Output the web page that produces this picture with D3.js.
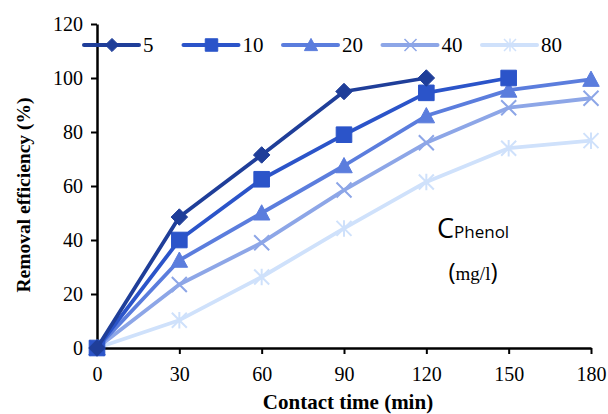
<!DOCTYPE html>
<html>
<head>
<meta charset="utf-8">
<script src="https://cdn.jsdelivr.net/npm/d3@7"></script>
<style>
  body { margin: 0; background: #fff; }
</style>
</head>
<body>
<div id="chart-area"></div>
<script>
// dados
const times = [0, 30, 60, 90, 120, 150, 180]
const xTicks = [0, 30, 60, 90, 120, 150, 180]
const yTicks = [0, 20, 40, 60, 80, 100, 120]
const seriesNames = ["5", "10", "20", "40", "80"]
const c5 = [0, 48.5, 71.5, 95, 100]
const c10 = [0, 40, 62.5, 79, 94.5, 100]
const c20 = [0, 32.5, 50, 67.5, 86, 95.5, 99.5]
const c40 = [0, 23.5, 39, 58.5, 76, 89, 92.5]
const c80 = [0, 10.3, 26.3, 44.3, 61.5, 74, 76.8]
const seriesValues = [c5, c10, c20, c40, c80]
const colors = ["#1f3e99", "#2b54c9", "#5b7ddd", "#8da6e7", "#cfe1fb"]
const symbols = ["diamond", "square", "triangle", "x", "star"]

const MARGIN = { LEFT: 97, RIGHT: 17, TOP: 24, BOTTOM: 66 }
const WIDTH = 608 - MARGIN.LEFT - MARGIN.RIGHT
const HEIGHT = 414 - MARGIN.TOP - MARGIN.BOTTOM

const svg = d3.select("#chart-area").append("svg")
  .attr("width", 608)
  .attr("height", 414)

const g = svg.append("g")
  .attr("transform", `translate(${MARGIN.LEFT}, ${MARGIN.TOP})`)

const x = d3.scaleLinear().domain([0, 180]).range([0, WIDTH])
const y = d3.scaleLinear().domain([0, 120]).range([HEIGHT, 0])

const serif = "'Liberation Serif', 'Times New Roman', serif"
const sans = "'Open Sans', 'Noto Sans', sans-serif"

// eixos
const xAxis = g.append("g")
  .attr("transform", `translate(0, ${HEIGHT})`)
  .call(d3.axisBottom(x).tickValues(xTicks).tickSize(6).tickSizeOuter(0).tickPadding(13))
const yAxis = g.append("g")
  .call(d3.axisLeft(y).tickValues(yTicks).tickSize(6).tickSizeOuter(0).tickPadding(8))

;[xAxis, yAxis].forEach(a => {
  a.select(".domain").attr("stroke", "#000").attr("stroke-width", 2.5)
  a.selectAll(".tick line").attr("stroke", "#000").attr("stroke-width", 2)
  a.selectAll(".tick text")
    .attr("fill", "#000")
    .attr("font-family", serif)
    .attr("font-size", "20px")
})

// títulos dos eixos
svg.append("text")
  .attr("x", 348)
  .attr("y", 409)
  .attr("text-anchor", "middle")
  .attr("font-family", serif)
  .attr("font-weight", "bold")
  .attr("font-size", "21px")
  .text("Contact time (min)")

svg.append("text")
  .attr("transform", "rotate(-90)")
  .attr("x", -195)
  .attr("y", 30)
  .attr("text-anchor", "middle")
  .attr("font-family", serif)
  .attr("font-weight", "bold")
  .attr("font-size", "19.5px")
  .text("Removal efficiency (%)")

// símbolos
function symbolPath(type, size) {
  if (type === "diamond") {
    const s = size * 0.55
    return `M0,${-s}L${s},0L0,${s}L${-s},0Z`
  }
  if (type === "square") {
    const s = size * 0.52
    return `M${-s},${-s}H${s}V${s}H${-s}Z`
  }
  if (type === "triangle") {
    const s = size * 0.55
    return `M0,${-s}L${s},${s * 0.85}L${-s},${s * 0.85}Z`
  }
  if (type === "x") {
    const s = size * 0.5
    return `M${-s},${-s}L${s},${s}M${s},${-s}L${-s},${s}`
  }
  const s = size * 0.5
  return `M${-s},${-s}L${s},${s}M${s},${-s}L${-s},${s}M0,${-s * 1.1}V${s * 1.1}`
}

const line = d3.line()
  .x((d, i) => x(times[i]))
  .y(d => y(d))

// desenha as séries (do mais claro para o mais escuro)
for (let k = seriesValues.length - 1; k >= 0; k--) {
  const vals = seriesValues[k]
  const sg = g.append("g")
  sg.append("path")
    .attr("fill", "none")
    .attr("stroke", colors[k])
    .attr("stroke-width", 3.8)
    .attr("stroke-linejoin", "round")
    .attr("d", line(vals))
  const open = symbols[k] === "x" || symbols[k] === "star"
  sg.selectAll("path.m")
    .data(vals)
    .enter().append("path")
    .attr("class", "m")
    .attr("transform", (d, i) => `translate(${x(times[i])}, ${y(d)})`)
    .attr("d", symbolPath(symbols[k], 15))
    .attr("fill", open ? "none" : colors[k])
    .attr("stroke", colors[k])
    .attr("stroke-width", open ? 2 : 1)
}

// legenda
const legend = svg.append("g").attr("transform", "translate(84, 45)")
seriesNames.forEach((name, k) => {
  const lg = legend.append("g").attr("transform", `translate(${k * 99.5}, 0)`)
  lg.append("line")
    .attr("x1", 0).attr("x2", 55)
    .attr("stroke", colors[k])
    .attr("stroke-width", 4)
    .attr("stroke-linecap", "round")
  const open = symbols[k] === "x" || symbols[k] === "star"
  lg.append("path")
    .attr("transform", "translate(28, 0)")
    .attr("d", symbolPath(symbols[k], 12))
    .attr("fill", open ? "none" : colors[k])
    .attr("stroke", colors[k])
    .attr("stroke-width", open ? 1.5 : 1)
  lg.append("text")
    .attr("x", 59)
    .attr("y", 7)
    .attr("font-family", serif)
    .attr("font-size", "21px")
    .attr("fill", "#000")
    .text(name)
})

// anotação C Phenol
const note = svg.append("text")
  .attr("x", 437)
  .attr("y", 238)
  .attr("font-family", sans)
  .attr("fill", "#000")
note.append("tspan").attr("font-size", "27px").text("C")
note.append("tspan").attr("font-size", "17px").text("Phenol")

const unit = svg.append("text")
  .attr("x", 473)
  .attr("y", 280)
  .attr("text-anchor", "middle")
  .attr("fill", "#000")
unit.append("tspan").attr("font-family", sans).attr("font-size", "24px").text("(")
unit.append("tspan").attr("font-family", serif).attr("font-size", "19px").text("mg/l")
unit.append("tspan").attr("font-family", sans).attr("font-size", "24px").text(")")
</script>
</body>
</html>
